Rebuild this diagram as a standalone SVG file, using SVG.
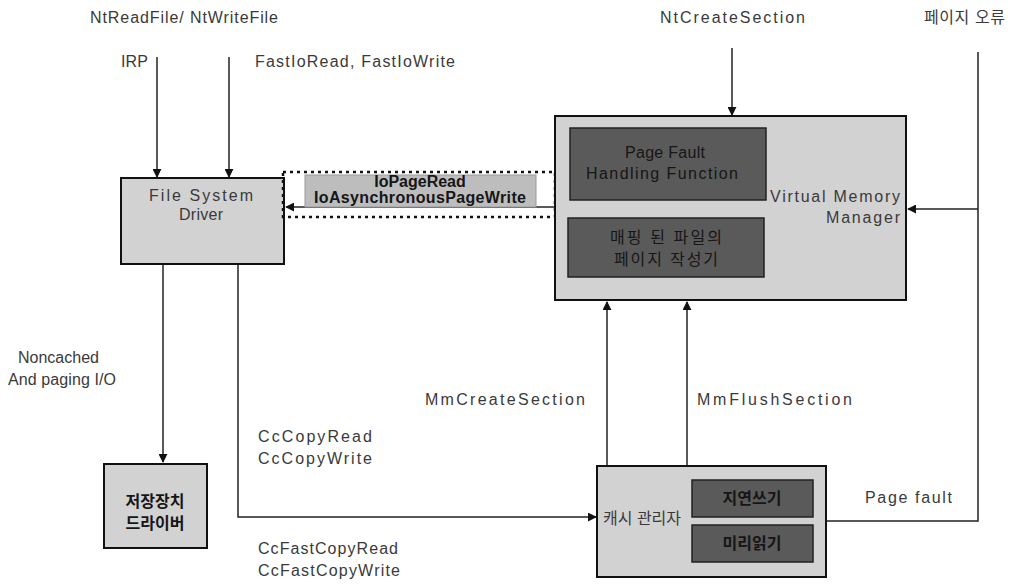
<svg xmlns="http://www.w3.org/2000/svg" width="1032" height="584" viewBox="0 0 1032 584">
<style>
text{font-family:"Liberation Sans",Arial,sans-serif;font-size:16px;fill:#3a3a3a}
.k{font-family:"Liberation Sans","Noto Sans CJK KR",sans-serif}
.box{fill:#d2d2d2;stroke:#111;stroke-width:2}
.dark{fill:#5a5a5a;stroke:#222;stroke-width:1.5}
.dt{fill:#161616}
.ln{fill:none;stroke:#222;stroke-width:1.5}
</style>
<defs>
<marker id="ah" viewBox="0 0 10 10" refX="9" refY="5" markerWidth="9" markerHeight="9" markerUnits="userSpaceOnUse" orient="auto"><path d="M0,0L10,5L0,10z" fill="#111"/></marker>
</defs>
<rect width="1032" height="584" fill="#fff"/>
<g id="labels">
<text x="90" y="23" textLength="188" lengthAdjust="spacing">NtReadFile/ NtWriteFile</text>
<text x="121" y="67" textLength="27" lengthAdjust="spacing">IRP</text>
<text x="255" y="67" textLength="200" lengthAdjust="spacing">FastIoRead, FastIoWrite</text>
<text x="660" y="23" textLength="145" lengthAdjust="spacing">NtCreateSection</text>
<text x="924" y="23" class="k" textLength="81" lengthAdjust="spacing">페이지 오류</text>
<text x="18" y="363">Noncached</text>
<text x="8" y="385" textLength="108" lengthAdjust="spacing">And paging I/O</text>
<text x="425" y="405" textLength="160" lengthAdjust="spacing">MmCreateSection</text>
<text x="697" y="405" textLength="155" lengthAdjust="spacing">MmFlushSection</text>
<text x="258" y="442" textLength="114" lengthAdjust="spacing">CcCopyRead</text>
<text x="258" y="464" textLength="114" lengthAdjust="spacing">CcCopyWrite</text>
<text x="258" y="554" textLength="140" lengthAdjust="spacing">CcFastCopyRead</text>
<text x="258" y="576" textLength="142" lengthAdjust="spacing">CcFastCopyWrite</text>
<text x="865" y="503" textLength="87" lengthAdjust="spacing">Page fault</text>
</g>
<g id="connectors">
<line class="ln" x1="157" y1="57" x2="157" y2="177" marker-end="url(#ah)"/>
<line class="ln" x1="229" y1="57" x2="229" y2="177" marker-end="url(#ah)"/>
<line class="ln" x1="732" y1="48" x2="732" y2="115" marker-end="url(#ah)"/>
<line class="ln" x1="555" y1="207" x2="286" y2="207" marker-end="url(#ah)"/>
<polyline class="ln" points="978,52 978,521 827,521"/>
<line class="ln" x1="978" y1="209" x2="908" y2="209" marker-end="url(#ah)"/>
<line class="ln" x1="163" y1="265" x2="163" y2="462" marker-end="url(#ah)"/>
<polyline class="ln" points="238,265 238,517 596,517" marker-end="url(#ah)"/>
<line class="ln" x1="607" y1="466" x2="607" y2="302" marker-end="url(#ah)"/>
<line class="ln" x1="687" y1="466" x2="687" y2="302" marker-end="url(#ah)"/>
</g>
<g id="fsd">
<rect class="box" x="121" y="178" width="163" height="86"/>
<text x="149" y="201" textLength="104" lengthAdjust="spacing">File System</text>
<text x="179" y="220" textLength="44" lengthAdjust="spacing">Driver</text>
</g>
<g id="iopage">
<rect x="283" y="172" width="272" height="45" fill="none" stroke="#111" stroke-width="2.5" stroke-dasharray="3,4"/>
<rect x="305" y="175" width="231" height="32" fill="#bdbdbd" stroke="#999" stroke-width="1"/>
<text x="420" y="187" text-anchor="middle" class="dt" font-size="11" font-weight="bold">IoPageRead</text>
<text x="420" y="203" text-anchor="middle" class="dt" font-size="11" font-weight="bold" textLength="212" lengthAdjust="spacing">IoAsynchronousPageWrite</text>
</g>
<g id="vmm">
<rect class="box" x="555" y="116" width="351" height="184"/>
<rect class="dark" x="570" y="128" width="196" height="72"/>
<text x="625" y="158" class="dt" textLength="80" lengthAdjust="spacing">Page Fault</text>
<text x="586" y="179" class="dt" textLength="152" lengthAdjust="spacing">Handling Function</text>
<rect class="dark" x="568" y="218" width="196" height="59"/>
<text x="666" y="243" text-anchor="middle" class="dt k" textLength="112" lengthAdjust="spacing">매핑 된 파일의</text>
<text x="666" y="265" text-anchor="middle" class="dt k" textLength="104" lengthAdjust="spacing">페이지 작성기</text>
<text x="770" y="202" textLength="130" lengthAdjust="spacing">Virtual Memory</text>
<text x="826" y="223" textLength="74" lengthAdjust="spacing">Manager</text>
</g>
<g id="storage">
<rect class="box" x="104" y="464" width="103" height="84"/>
<text x="155" y="507" text-anchor="middle" class="k dt" font-weight="bold">저장장치</text>
<text x="155" y="529" text-anchor="middle" class="k dt" font-weight="bold">드라이버</text>
</g>
<g id="cache">
<rect class="box" x="597" y="466" width="229" height="111"/>
<text x="603" y="524" class="k" font-size="14">캐시 관리자</text>
<rect class="dark" x="692" y="480" width="121" height="37"/>
<text x="752" y="504" text-anchor="middle" class="k dt" font-weight="bold">지연쓰기</text>
<rect class="dark" x="692" y="525" width="121" height="37"/>
<text x="752" y="549" text-anchor="middle" class="k dt" font-weight="bold">미리읽기</text>
</g>
</svg>
